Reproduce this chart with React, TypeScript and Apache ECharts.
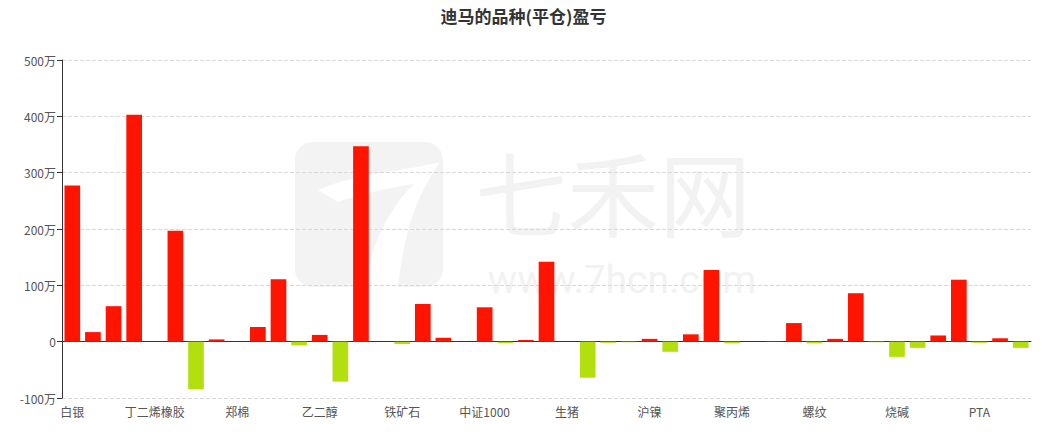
import React, { useEffect, useRef } from "react";
import * as echarts from "echarts";

const categories = [
  "白银", "沪铜", "沪金", "橡胶", "丁二烯橡胶", "苹果", "玻璃", "纯碱",
  "郑棉", "菜粕", "豆粕", "棕榈油", "乙二醇", "甲醇", "原油", "燃油",
  "铁矿石", "焦炭", "焦煤", "热卷", "中证1000", "沪深300", "上证50", "中证500",
  "生猪", "鸡蛋", "玉米", "豆一", "沪镍", "沪锡", "沪铝", "沪锌",
  "聚丙烯", "塑料", "PVC", "苯乙烯", "螺纹", "不锈钢", "硅铁", "锰硅",
  "烧碱", "尿素", "纸浆", "白糖", "PTA", "短纤", "碳酸锂",
];

// 盈亏, 单位: 万
const profit = [
  277, 17, 63, 403, 0, 197, -84, 4,
  0, 26, 111, -6.5, 12, -71, 347, 0,
  -4, 67, 7, 0, 61, -3, 3, 142,
  0, -64, -2, -1, 5, -18, 13, 127,
  -3, 0, 1, 33, -3, 5, 86, -1,
  -27, -11, 11, 110, -2, 6, -11,
];

const yTicks = { min: -100, max: 500, interval: 100 };

const RED = "#ff1400";
const GREEN = "#b3df0e";
const FONT = "'Noto Sans CJK SC', 'Noto Sans', sans-serif";

const logoD =
  "M 318 190 C 345 178 385 172 412 168 L 440 162 C 420 192 405 222 398 287 L 364 287 C 372 242 390 207 414 184 C 388 188 360 194 338 202 Z";

export default function App() {
  const ref = useRef<HTMLDivElement>(null);
  useEffect(() => {
    if (!ref.current) return;
    try {
      echarts.graphic.registerShape("logo7", echarts.graphic.extendPath(logoD, {}) as any);
    } catch (e) {}
    const chart = echarts.init(ref.current, undefined, { renderer: "svg" });
    chart.setOption({
      animation: false,
      backgroundColor: "#fff",
      textStyle: { fontFamily: FONT },
      title: {
        text: "迪马的品种(平仓)盈亏",
        left: "center",
        top: 2,
        textStyle: { fontSize: 17, fontWeight: "bold", color: "#333", fontFamily: FONT },
      },
      graphic: [
        {
          type: "group",
          z: -10,
          silent: true,
          children: [
            {
              type: "rect",
              shape: { x: 295, y: 142, width: 148, height: 145, r: 18 },
              style: { fill: "#f3f3f3" },
            },
            {
              type: "logo7",
              x: 0,
              y: 0,
              style: { fill: "#ffffff" },
            },
            {
              type: "text",
              x: 613,
              y: 189,
              style: {
                text: "七禾网",
                fontSize: 92,
                lineHeight: 92,
                fontFamily: FONT,
                fill: "#f2f2f2",
                align: "center",
                verticalAlign: "middle",
              },
            },
            {
              type: "text",
              x: 622,
              y: 280,
              style: {
                text: "www.7hcn.com",
                fontSize: 39,
                lineHeight: 39,
                fontFamily: "Roboto, 'Noto Sans', sans-serif",
                fill: "#f2f2f2",
                align: "center",
                verticalAlign: "middle",
              },
            },
          ],
        },
      ],
      grid: { left: 62, right: 16, top: 60, bottom: 37, containLabel: false },
      xAxis: [
        {
          type: "category",
          data: categories,
          axisLine: { onZero: true, lineStyle: { color: "#333" } },
          axisTick: { alignWithLabel: true, interval: 3, length: 5, lineStyle: { color: "#333" } },
          axisLabel: { show: false },
          splitLine: { show: false },
        },
        {
          type: "category",
          data: categories,
          position: "bottom",
          axisLine: { show: false, onZero: false },
          axisTick: { show: false },
          axisLabel: { interval: 3, color: "#555", fontSize: 12, margin: 7, fontFamily: FONT },
        },
      ],
      yAxis: {
        type: "value",
        min: yTicks.min,
        max: yTicks.max,
        interval: yTicks.interval,
        axisLine: { show: true, lineStyle: { color: "#333" } },
        axisTick: { show: true, length: 5, lineStyle: { color: "#333" } },
        axisLabel: {
          color: "#555",
          fontSize: 12,
          margin: 6,
          fontFamily: FONT,
          formatter: (v: number) => (v === 0 ? "0" : `${v}万`),
        },
        splitLine: { show: true, lineStyle: { type: "dashed", color: "#d9d9d9" } },
      },
      series: [
        {
          type: "bar",
          xAxisIndex: 0,
          data: profit.map((v) => ({
            value: v,
            itemStyle: { color: v >= 0 ? RED : GREEN },
          })),
          barCategoryGap: "24%",
        },
      ],
    });
    return () => chart.dispose();
  }, []);
  return (
    <div
      ref={ref}
      style={{ position: "fixed", left: 0, top: 0, width: 1047, height: 435 }}
    />
  );
}
